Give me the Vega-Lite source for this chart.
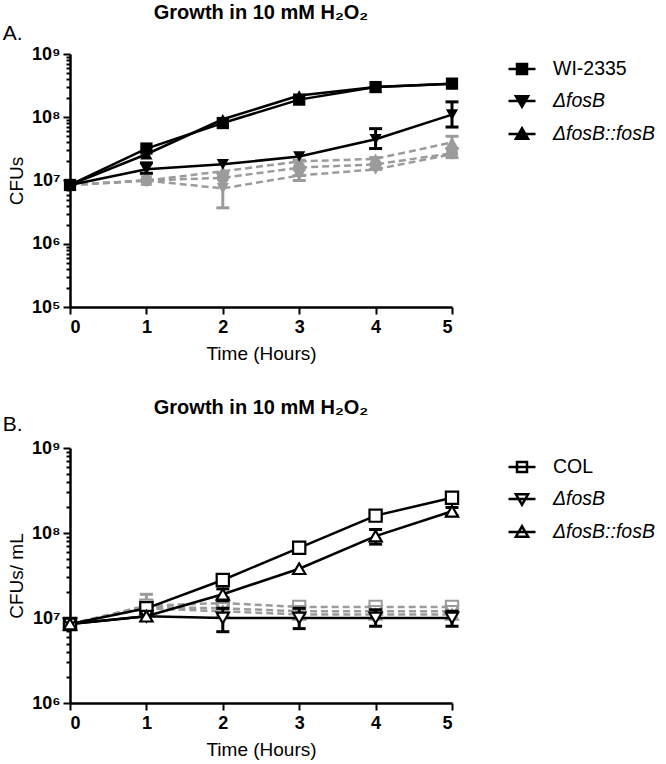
{
  "$schema": "https://vega.github.io/schema/vega-lite/v6.json",
  "padding": {"left": 2, "top": 2, "right": 5, "bottom": 2},
  "background": "white",
  "config": {
    "font": "Liberation Sans",
    "view": {"stroke": null},
    "style": {"group-title": {"fontSize": 20, "fontWeight": "bold", "color": "black"}},
    "axis": {"domain": true, "domainColor": "black", "domainWidth": 2.5, "tickColor": "black", "tickWidth": 2, "labelColor": "black", "titleColor": "black", "labelFont": "Liberation Sans", "labelFontWeight": "bold", "labelFontSize": 18, "titleFont": "Liberation Sans", "titleFontWeight": "normal", "titleFontSize": 19, "grid": false},
    "legend": {"labelFont": "Liberation Sans", "labelFontSize": 19.5, "labelColor": "black"}
  },
  "datasets": {
    "main": [
      {"p": "A", "s": "WI-2335", "t": 0, "v": 8.5e6},
      {"p": "A", "s": "WI-2335", "t": 1, "v": 3.2e7},
      {"p": "A", "s": "WI-2335", "t": 2, "v": 8.1e7},
      {"p": "A", "s": "WI-2335", "t": 3, "v": 1.9e8},
      {"p": "A", "s": "WI-2335", "t": 4, "v": 3.0e8},
      {"p": "A", "s": "WI-2335", "t": 5, "v": 3.4e8},
      {"p": "A", "s": "ΔfosB", "t": 0, "v": 8.5e6},
      {"p": "A", "s": "ΔfosB", "t": 1, "v": 1.5e7, "lo": 1.3e7, "hi": 1.9e7},
      {"p": "A", "s": "ΔfosB", "t": 2, "v": 1.8e7},
      {"p": "A", "s": "ΔfosB", "t": 3, "v": 2.4e7},
      {"p": "A", "s": "ΔfosB", "t": 4, "v": 4.5e7, "lo": 3.2e7, "hi": 6.6e7},
      {"p": "A", "s": "ΔfosB", "t": 5, "v": 1.1e8, "lo": 7.0e7, "hi": 1.75e8},
      {"p": "A", "s": "ΔfosB::fosB", "t": 0, "v": 8.5e6},
      {"p": "A", "s": "ΔfosB::fosB", "t": 1, "v": 2.6e7},
      {"p": "A", "s": "ΔfosB::fosB", "t": 2, "v": 9.3e7},
      {"p": "A", "s": "ΔfosB::fosB", "t": 3, "v": 2.2e8},
      {"p": "A", "s": "ΔfosB::fosB", "t": 4, "v": 3.0e8},
      {"p": "A", "s": "ΔfosB::fosB", "t": 5, "v": 3.4e8},
      {"p": "B", "s": "COL", "t": 0, "v": 8.5e6},
      {"p": "B", "s": "COL", "t": 1, "v": 1.3e7},
      {"p": "B", "s": "COL", "t": 2, "v": 2.8e7, "lo": 2.6e7, "hi": 3.0e7},
      {"p": "B", "s": "COL", "t": 3, "v": 6.7e7},
      {"p": "B", "s": "COL", "t": 4, "v": 1.6e8, "lo": 1.5e8, "hi": 1.75e8},
      {"p": "B", "s": "COL", "t": 5, "v": 2.6e8},
      {"p": "B", "s": "ΔfosB", "t": 0, "v": 8.5e6},
      {"p": "B", "s": "ΔfosB", "t": 1, "v": 1.05e7},
      {"p": "B", "s": "ΔfosB", "t": 2, "v": 1.0e7, "lo": 6.9e6, "hi": 1.3e7},
      {"p": "B", "s": "ΔfosB", "t": 3, "v": 1.0e7, "lo": 7.5e6, "hi": 1.3e7},
      {"p": "B", "s": "ΔfosB", "t": 4, "v": 1.0e7, "lo": 8.0e6, "hi": 1.25e7},
      {"p": "B", "s": "ΔfosB", "t": 5, "v": 1.0e7, "lo": 8.0e6, "hi": 1.2e7},
      {"p": "B", "s": "ΔfosB::fosB", "t": 0, "v": 8.5e6},
      {"p": "B", "s": "ΔfosB::fosB", "t": 1, "v": 1.05e7},
      {"p": "B", "s": "ΔfosB::fosB", "t": 2, "v": 1.9e7, "lo": 1.6e7, "hi": 2.2e7},
      {"p": "B", "s": "ΔfosB::fosB", "t": 3, "v": 3.8e7},
      {"p": "B", "s": "ΔfosB::fosB", "t": 4, "v": 9.2e7, "lo": 7.4e7, "hi": 1.1e8},
      {"p": "B", "s": "ΔfosB::fosB", "t": 5, "v": 1.8e8, "lo": 1.6e8, "hi": 2.0e8}
    ],
    "gray": [
      {"p": "A", "g": "g1", "t": 0, "v": 8.5e6},
      {"p": "A", "g": "g1", "t": 1, "v": 1.0e7},
      {"p": "A", "g": "g1", "t": 2, "v": 1.4e7},
      {"p": "A", "g": "g1", "t": 3, "v": 2.0e7},
      {"p": "A", "g": "g1", "t": 4, "v": 2.2e7},
      {"p": "A", "g": "g1", "t": 5, "v": 4.0e7, "lo": 3.2e7, "hi": 5.0e7},
      {"p": "A", "g": "g2", "t": 0, "v": 8.5e6},
      {"p": "A", "g": "g2", "t": 1, "v": 1.0e7},
      {"p": "A", "g": "g2", "t": 2, "v": 1.1e7},
      {"p": "A", "g": "g2", "t": 3, "v": 1.6e7, "lo": 1.2e7, "hi": 2.1e7},
      {"p": "A", "g": "g2", "t": 4, "v": 1.8e7, "lo": 1.5e7, "hi": 2.3e7},
      {"p": "A", "g": "g2", "t": 5, "v": 2.7e7, "lo": 2.3e7, "hi": 3.2e7},
      {"p": "A", "g": "g3", "t": 0, "v": 8.5e6},
      {"p": "A", "g": "g3", "t": 1, "v": 1.0e7},
      {"p": "A", "g": "g3", "t": 2, "v": 7.5e6, "lo": 3.7e6, "hi": 1.3e7},
      {"p": "A", "g": "g3", "t": 3, "v": 1.2e7, "lo": 1.0e7, "hi": 1.5e7},
      {"p": "A", "g": "g3", "t": 4, "v": 1.5e7},
      {"p": "A", "g": "g3", "t": 5, "v": 2.6e7},
      {"p": "B", "g": "g1", "t": 0, "v": 8.5e6},
      {"p": "B", "g": "g1", "t": 1, "v": 1.4e7, "lo": 1.1e7, "hi": 1.9e7},
      {"p": "B", "g": "g1", "t": 2, "v": 1.5e7},
      {"p": "B", "g": "g1", "t": 3, "v": 1.35e7, "lo": 1.2e7, "hi": 1.55e7},
      {"p": "B", "g": "g1", "t": 4, "v": 1.35e7},
      {"p": "B", "g": "g1", "t": 5, "v": 1.35e7, "lo": 1.2e7, "hi": 1.5e7},
      {"p": "B", "g": "g2", "t": 0, "v": 8.5e6},
      {"p": "B", "g": "g2", "t": 1, "v": 1.35e7},
      {"p": "B", "g": "g2", "t": 2, "v": 1.3e7},
      {"p": "B", "g": "g2", "t": 3, "v": 1.2e7},
      {"p": "B", "g": "g2", "t": 4, "v": 1.2e7},
      {"p": "B", "g": "g2", "t": 5, "v": 1.2e7},
      {"p": "B", "g": "g3", "t": 0, "v": 8.5e6},
      {"p": "B", "g": "g3", "t": 1, "v": 1.3e7},
      {"p": "B", "g": "g3", "t": 2, "v": 1.2e7},
      {"p": "B", "g": "g3", "t": 3, "v": 1.1e7},
      {"p": "B", "g": "g3", "t": 4, "v": 1.1e7},
      {"p": "B", "g": "g3", "t": 5, "v": 1.1e7}
    ],
    "labA": [{"lab": "A."}],
    "labB": [{"lab": "B."}]
  },
  "spacing": 35,
  "resolve": {"scale": {"x": "independent", "y": "independent", "shape": "independent"}, "legend": {"shape": "independent"}},
  "vconcat": [
    {
      "width": 382,
      "height": 253,
      "title": {"text": "Growth in 10 mM H₂O₂", "fontSize": 20, "fontWeight": "bold", "color": "black", "anchor": "middle", "offset": 0},
      "resolve": {"scale": {"shape": "independent"}},
      "layer": [
        {
          "data": {"name": "gray"},
          "transform": [{"filter": "datum.p == 'A'"}],
          "mark": {"type": "line", "strokeDash": [7, 4], "color": "#9b9b9b", "strokeWidth": 2.5, "clip": false},
          "encoding": {
            "x": {"field": "t", "type": "quantitative", "scale": {"domain": [0, 5], "nice": false, "zero": false},
              "axis": {"title": "Time (Hours)", "values": [0, 1, 2, 3, 4, 5], "format": "d", "tickSize": 7, "labelPadding": 4, "titlePadding": 8}},
            "y": {"field": "v", "type": "quantitative", "scale": {"type": "log", "domain": [1e5, 1e9], "nice": false},
              "axis": {"title": "CFUs", "titlePadding": 5, "labelOverlap": false, "labelBound": false, "labelPadding": 3,
                "values": [1e5, 2e5, 3e5, 4e5, 5e5, 6e5, 7e5, 8e5, 9e5, 1e6, 2e6, 3e6, 4e6, 5e6, 6e6, 7e6, 8e6, 9e6, 1e7, 2e7, 3e7, 4e7, 5e7, 6e7, 7e7, 8e7, 9e7, 1e8, 2e8, 3e8, 4e8, 5e8, 6e8, 7e8, 8e8, 9e8, 1e9],
                "labelExpr": "abs(log(datum.value)/LN10 - round(log(datum.value)/LN10)) < 0.01 ? '10' + ['⁰','¹','²','³','⁴','⁵','⁶','⁷','⁸','⁹'][round(log(datum.value)/LN10)] : ''",
                "tickSize": {"condition": {"test": "abs(log(datum.value)/LN10 - round(log(datum.value)/LN10)) < 0.01", "value": 7}, "value": 4}}},
            "detail": {"field": "g"}
          }
        },
        {
          "data": {"name": "gray"},
          "transform": [{"filter": "datum.p == 'A' && isValid(datum.lo)"}],
          "mark": {"type": "rule", "color": "#9b9b9b", "strokeWidth": 3, "clip": false},
          "encoding": {
            "x": {"field": "t", "type": "quantitative"},
            "y": {"field": "lo", "type": "quantitative"},
            "y2": {"field": "hi"}
          }
        },
        {
          "data": {"name": "gray"},
          "transform": [{"filter": "datum.p == 'A' && isValid(datum.lo)"}, {"fold": ["lo", "hi"], "as": ["end", "ev"]}],
          "mark": {"type": "tick", "orient": "horizontal", "color": "#9b9b9b", "size": 13, "thickness": 3, "opacity": 1, "clip": false},
          "encoding": {
            "x": {"field": "t", "type": "quantitative"},
            "y": {"field": "ev", "type": "quantitative"}
          }
        },
        {
          "data": {"name": "gray"},
          "transform": [{"filter": "datum.p == 'A' && datum.t > 0"}],
          "mark": {"type": "point", "filled": true, "color": "#9b9b9b", "opacity": 1, "size": 150, "clip": false},
          "encoding": {
            "x": {"field": "t", "type": "quantitative"},
            "y": {"field": "v", "type": "quantitative"},
            "shape": {"field": "g", "type": "nominal", "scale": {"range": ["triangle-up", "circle", "triangle-down"]}, "legend": null}
          }
        },
        {
          "data": {"name": "main"},
          "transform": [{"filter": "datum.p == 'A'"}],
          "mark": {"type": "line", "color": "black", "strokeWidth": 2.5, "clip": false},
          "encoding": {
            "x": {"field": "t", "type": "quantitative"},
            "y": {"field": "v", "type": "quantitative"},
            "detail": {"field": "s"}
          }
        },
        {
          "data": {"name": "main"},
          "transform": [{"filter": "datum.p == 'A' && isValid(datum.lo)"}],
          "mark": {"type": "rule", "color": "black", "strokeWidth": 3, "clip": false},
          "encoding": {
            "x": {"field": "t", "type": "quantitative"},
            "y": {"field": "lo", "type": "quantitative"},
            "y2": {"field": "hi"}
          }
        },
        {
          "data": {"name": "main"},
          "transform": [{"filter": "datum.p == 'A' && isValid(datum.lo)"}, {"fold": ["lo", "hi"], "as": ["end", "ev"]}],
          "mark": {"type": "tick", "orient": "horizontal", "color": "black", "size": 13, "thickness": 3, "opacity": 1, "clip": false},
          "encoding": {
            "x": {"field": "t", "type": "quantitative"},
            "y": {"field": "ev", "type": "quantitative"}
          }
        },
        {
          "data": {"name": "main"},
          "transform": [{"filter": "datum.p == 'A'"}],
          "mark": {"type": "point", "filled": true, "color": "black", "opacity": 1, "size": 150, "clip": false},
          "encoding": {
            "x": {"field": "t", "type": "quantitative"},
            "y": {"field": "v", "type": "quantitative"},
            "shape": {"field": "s", "type": "nominal", "scale": {"range": ["square", "triangle-down", "triangle-up"]}, "legend": null}
          }
        },
        {
          "data": {"name": "main"},
          "transform": [{"filter": "datum.p == 'A'"}],
          "mark": {"type": "point", "filled": false, "color": "black", "strokeWidth": 2.5, "opacity": 0, "size": 10, "clip": false},
          "encoding": {
            "x": {"field": "t", "type": "quantitative"},
            "y": {"field": "v", "type": "quantitative"},
            "shape": {"field": "s", "type": "nominal",
              "scale": {"range": [
                "M-1,0H1M-0.37,-0.37H0.37V0.37H-0.37ZM-0.37,-0.18H0.37M-0.37,0.18H0.37",
                "M-1,0H1M-0.45,-0.35H0.45L0,0.42ZM-0.362,-0.2H0.362M-0.275,-0.05H0.275M-0.187,0.1H0.187M-0.099,0.25H0.099",
                "M-1,0H1M-0.45,0.35H0.45L0,-0.42ZM-0.362,0.2H0.362M-0.275,0.05H0.275M-0.187,-0.1H0.187M-0.099,-0.25H0.099"]},
              "legend": {"title": null, "orient": "right", "offset": 50, "padding": 0, "symbolSize": 729, "symbolStrokeWidth": 2.5, "symbolStrokeColor": "black", "symbolOpacity": 1, "labelFontSize": 19.5, "labelOffset": 16, "rowPadding": 7,
                "labelFontStyle": {"expr": "datum.value == 'WI-2335' || datum.value == 'COL' ? 'normal' : 'italic'"}}}
          }
        },
        {
          "data": {"name": "labA"},
          "mark": {"type": "text", "align": "left", "baseline": "middle", "fontSize": 21, "font": "Liberation Sans", "color": "black", "clip": false},
          "encoding": {
            "text": {"field": "lab"},
            "x": {"datum": -0.88},
            "y": {"datum": 2.1e9}
          }
        }
      ]
    },
    {
      "width": 382,
      "height": 255,
      "title": {"text": "Growth in 10 mM H₂O₂", "fontSize": 20, "fontWeight": "bold", "color": "black", "anchor": "middle", "offset": -4},
      "resolve": {"scale": {"shape": "independent"}},
      "layer": [
        {
          "data": {"name": "gray"},
          "transform": [{"filter": "datum.p == 'B'"}],
          "mark": {"type": "line", "strokeDash": [7, 4], "color": "#9b9b9b", "strokeWidth": 2.5, "clip": false},
          "encoding": {
            "x": {"field": "t", "type": "quantitative", "scale": {"domain": [0, 5], "nice": false, "zero": false},
              "axis": {"title": "Time (Hours)", "values": [0, 1, 2, 3, 4, 5], "format": "d", "tickSize": 7, "labelPadding": 4, "titlePadding": 8}},
            "y": {"field": "v", "type": "quantitative", "scale": {"type": "log", "domain": [1e6, 1e9], "nice": false},
              "axis": {"title": "CFUs/ mL", "titlePadding": 5, "labelOverlap": false, "labelBound": false, "labelPadding": 3,
                "values": [1e6, 2e6, 3e6, 4e6, 5e6, 6e6, 7e6, 8e6, 9e6, 1e7, 2e7, 3e7, 4e7, 5e7, 6e7, 7e7, 8e7, 9e7, 1e8, 2e8, 3e8, 4e8, 5e8, 6e8, 7e8, 8e8, 9e8, 1e9],
                "labelExpr": "abs(log(datum.value)/LN10 - round(log(datum.value)/LN10)) < 0.01 ? '10' + ['⁰','¹','²','³','⁴','⁵','⁶','⁷','⁸','⁹'][round(log(datum.value)/LN10)] : ''",
                "tickSize": {"condition": {"test": "abs(log(datum.value)/LN10 - round(log(datum.value)/LN10)) < 0.01", "value": 7}, "value": 4}}},
            "detail": {"field": "g"}
          }
        },
        {
          "data": {"name": "gray"},
          "transform": [{"filter": "datum.p == 'B' && isValid(datum.lo)"}],
          "mark": {"type": "rule", "color": "#9b9b9b", "strokeWidth": 3, "clip": false},
          "encoding": {
            "x": {"field": "t", "type": "quantitative"},
            "y": {"field": "lo", "type": "quantitative"},
            "y2": {"field": "hi"}
          }
        },
        {
          "data": {"name": "gray"},
          "transform": [{"filter": "datum.p == 'B' && isValid(datum.lo)"}, {"fold": ["lo", "hi"], "as": ["end", "ev"]}],
          "mark": {"type": "tick", "orient": "horizontal", "color": "#9b9b9b", "size": 13, "thickness": 3, "opacity": 1, "clip": false},
          "encoding": {
            "x": {"field": "t", "type": "quantitative"},
            "y": {"field": "ev", "type": "quantitative"}
          }
        },
        {
          "data": {"name": "gray"},
          "transform": [{"filter": "datum.p == 'B' && datum.t > 0"}],
          "mark": {"type": "point", "filled": true, "fill": "white", "stroke": "#9b9b9b", "strokeWidth": 2, "opacity": 1, "size": 150, "clip": false},
          "encoding": {
            "x": {"field": "t", "type": "quantitative"},
            "y": {"field": "v", "type": "quantitative"},
            "shape": {"field": "g", "type": "nominal", "scale": {"range": ["square", "triangle-down", "triangle-up"]}, "legend": null}
          }
        },
        {
          "data": {"name": "main"},
          "transform": [{"filter": "datum.p == 'B'"}],
          "mark": {"type": "line", "color": "black", "strokeWidth": 2.5, "clip": false},
          "encoding": {
            "x": {"field": "t", "type": "quantitative"},
            "y": {"field": "v", "type": "quantitative"},
            "detail": {"field": "s"}
          }
        },
        {
          "data": {"name": "main"},
          "transform": [{"filter": "datum.p == 'B' && isValid(datum.lo)"}],
          "mark": {"type": "rule", "color": "black", "strokeWidth": 3, "clip": false},
          "encoding": {
            "x": {"field": "t", "type": "quantitative"},
            "y": {"field": "lo", "type": "quantitative"},
            "y2": {"field": "hi"}
          }
        },
        {
          "data": {"name": "main"},
          "transform": [{"filter": "datum.p == 'B' && isValid(datum.lo)"}, {"fold": ["lo", "hi"], "as": ["end", "ev"]}],
          "mark": {"type": "tick", "orient": "horizontal", "color": "black", "size": 13, "thickness": 3, "opacity": 1, "clip": false},
          "encoding": {
            "x": {"field": "t", "type": "quantitative"},
            "y": {"field": "ev", "type": "quantitative"}
          }
        },
        {
          "data": {"name": "main"},
          "transform": [{"filter": "datum.p == 'B'"}],
          "mark": {"type": "point", "filled": true, "fill": "white", "stroke": "black", "strokeWidth": 2.2, "opacity": 1, "size": 150, "clip": false},
          "encoding": {
            "x": {"field": "t", "type": "quantitative"},
            "y": {"field": "v", "type": "quantitative"},
            "shape": {"field": "s", "type": "nominal", "scale": {"range": ["square", "triangle-down", "triangle-up"]}, "legend": null}
          }
        },
        {
          "data": {"name": "main"},
          "transform": [{"filter": "datum.p == 'B'"}],
          "mark": {"type": "point", "filled": false, "color": "black", "strokeWidth": 2.5, "opacity": 0, "size": 10, "clip": false},
          "encoding": {
            "x": {"field": "t", "type": "quantitative"},
            "y": {"field": "v", "type": "quantitative"},
            "shape": {"field": "s", "type": "nominal",
              "scale": {"range": ["M-1,0H1M-0.37,-0.37H0.37V0.37H-0.37Z", "M-1,0H1M-0.45,-0.35H0.45L0,0.42Z", "M-1,0H1M-0.45,0.35H0.45L0,-0.42Z"]},
              "legend": {"title": null, "orient": "right", "offset": 46, "padding": 4, "symbolSize": 729, "symbolStrokeWidth": 2.5, "symbolStrokeColor": "black", "symbolOpacity": 1, "labelFontSize": 19.5, "labelOffset": 16, "rowPadding": 7,
                "labelFontStyle": {"expr": "datum.value == 'WI-2335' || datum.value == 'COL' ? 'normal' : 'italic'"}}}
          }
        },
        {
          "data": {"name": "labB"},
          "mark": {"type": "text", "align": "left", "baseline": "middle", "fontSize": 21, "font": "Liberation Sans", "color": "black", "clip": false},
          "encoding": {
            "text": {"field": "lab"},
            "x": {"datum": -0.88},
            "y": {"datum": 1.85e9}
          }
        }
      ]
    }
  ]
}
